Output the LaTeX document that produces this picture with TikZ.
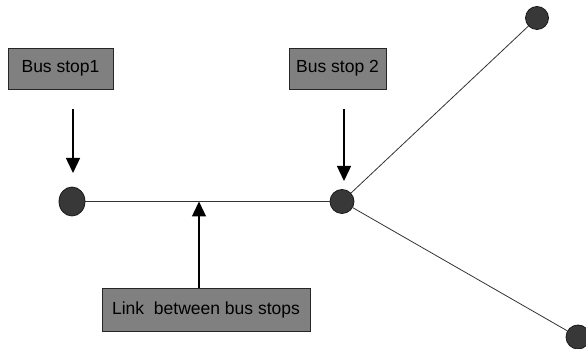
\documentclass[tikz,border=0pt]{standalone}
\usepackage{fontspec}
\setmainfont{Liberation Sans}
\usetikzlibrary{arrows.meta}
\usetikzlibrary{shapes.geometric}

\begin{document}
\begin{tikzpicture}
[x=1pt,y=1pt,%
  label/.style={draw=black!85,fill=black!50,line width=0.8pt,inner sep=0pt,%
    font=\fontsize{17.5}{20}\selectfont},%
  stop/.style={shape=circle,draw=black!90,fill=black!78,line width=0.8pt,%
    inner sep=0pt,minimum size=24pt},%
  road/.style={line width=0.8pt,black!80},%
  pointer/.style={-{Triangle[length=15pt,width=14pt]},line width=1.4pt}]
\useasboundingbox (0,0) rectangle (586,348);
% stops on the network
\node[stop,minimum width=26pt,minimum height=29pt,shape=ellipse] (s1) at (72,146.5) {};
\node[stop] (s2) at (342,146.5) {};
\node[stop,minimum size=23pt] (s3) at (537,330) {};
\node[stop] (s4) at (578,11) {};
% links
\draw[road] (s1) -- (s2);
\draw[road] (s2) -- (s3);
\draw[road] (s2) -- (s4);
% labels
\node[label,minimum width=105pt,minimum height=41pt] (l1) at (60.5,279.5) {Bus stop1};
\node[label,minimum width=97pt,minimum height=41pt] (l2) at (337.5,279.5) {Bus stop 2};
\node[label,minimum width=208pt,minimum height=43pt] (l3) at (206,38.5) {Link~~between bus stops};
% arrows
\coordinate (a1) at (73,239);
\coordinate (b1) at (73,175);
\coordinate (a2) at (344,239);
\coordinate (b2) at (344,167);
\coordinate (b3) at (199,146.5);
\draw[pointer] (a1) -- (b1);
\draw[pointer] (a2) -- (b2);
\draw[pointer] (l3.north -| b3) -- (b3);
\end{tikzpicture}
\end{document}
